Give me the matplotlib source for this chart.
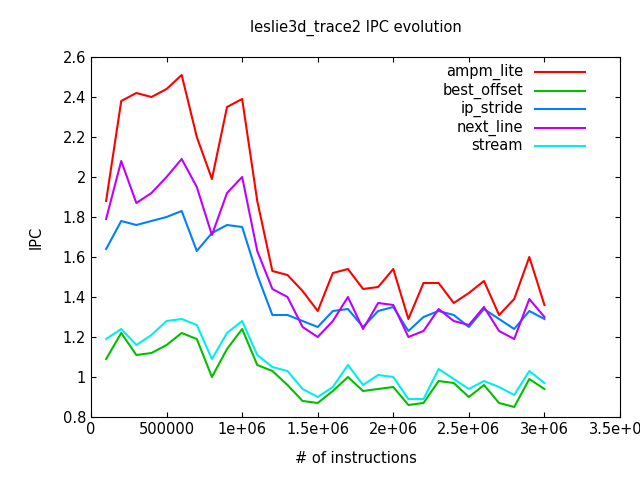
import matplotlib
matplotlib.use("Agg")
import matplotlib.pyplot as plt

# ---------------------------
# data
# ---------------------------
instructions = [i * 100000 for i in range(1, 31)]

ampm_lite = [1.88, 2.38, 2.42, 2.40, 2.44, 2.51, 2.20, 1.99, 2.35, 2.39,
             1.88, 1.53, 1.51, 1.43, 1.33, 1.52, 1.54, 1.44, 1.45, 1.54,
             1.29, 1.47, 1.47, 1.37, 1.42, 1.48, 1.31, 1.39, 1.60, 1.36]
best_offset = [1.09, 1.22, 1.11, 1.12, 1.16, 1.22, 1.19, 1.00, 1.14, 1.24,
               1.06, 1.03, 0.96, 0.88, 0.87, 0.93, 1.00, 0.93, 0.94, 0.95,
               0.86, 0.87, 0.98, 0.97, 0.90, 0.96, 0.87, 0.85, 0.99, 0.94]
ip_stride = [1.64, 1.78, 1.76, 1.78, 1.80, 1.83, 1.63, 1.72, 1.76, 1.75,
             1.51, 1.31, 1.31, 1.28, 1.25, 1.33, 1.34, 1.25, 1.33, 1.35,
             1.23, 1.30, 1.33, 1.31, 1.25, 1.34, 1.29, 1.24, 1.33, 1.29]
next_line = [1.79, 2.08, 1.87, 1.92, 2.00, 2.09, 1.95, 1.71, 1.92, 2.00,
             1.63, 1.44, 1.40, 1.25, 1.20, 1.28, 1.40, 1.24, 1.37, 1.36,
             1.20, 1.23, 1.34, 1.28, 1.26, 1.35, 1.23, 1.19, 1.39, 1.30]
stream = [1.19, 1.24, 1.16, 1.21, 1.28, 1.29, 1.26, 1.09, 1.22, 1.28,
          1.11, 1.05, 1.03, 0.94, 0.90, 0.95, 1.06, 0.96, 1.01, 1.00,
          0.89, 0.89, 1.04, 0.99, 0.94, 0.98, 0.95, 0.91, 1.03, 0.97]

series = [("ampm_lite", ampm_lite, "#ff0000"),
          ("best_offset", best_offset, "#00c000"),
          ("ip_stride", ip_stride, "#0080ff"),
          ("next_line", next_line, "#c000ff"),
          ("stream", stream, "#00eeee")]

xticks = [0, 500000, 1000000, 1500000, 2000000, 2500000, 3000000, 3500000]
xtick_labels = ["0", "500000", "1e+06", "1.5e+06", "2e+06", "2.5e+06", "3e+06", "3.5e+06"]
yticks = [0.8, 1, 1.2, 1.4, 1.6, 1.8, 2, 2.2, 2.4, 2.6]
ytick_labels = ["0.8", "1", "1.2", "1.4", "1.6", "1.8", "2", "2.2", "2.4", "2.6"]

# ---------------------------
# plot
# ---------------------------
fig = plt.figure(figsize=(6.4, 4.8), dpi=100)
ax = fig.add_axes([91 / 640, 1 - 417 / 480, 529 / 640, 360 / 480])

for name, vals, color in series:
    ax.plot(instructions, vals, color=color, linewidth=1.5)

ax.set_xlim(0, 3500000)
ax.set_ylim(0.8, 2.6)
ax.set_xticks(xticks)
ax.set_xticklabels(xtick_labels)
ax.set_yticks(yticks)
ax.set_yticklabels(ytick_labels)
ax.tick_params(direction="in", top=True, right=True, labelsize=10.5)
ax.set_xlabel("# of instructions", fontsize=10.5, labelpad=10)
ax.set_ylabel("IPC", fontsize=10.5, labelpad=14)
ax.set_title("leslie3d_trace2 IPC evolution", fontsize=10.5, pad=18)

# gnuplot-style key: right-aligned text, sample line to its right
for i, (name, vals, color) in enumerate(series):
    y = 1 - (15 + i * 18.5) / 360
    ax.text((523 - 91) / 529, y, name, transform=ax.transAxes,
            ha="right", va="center", fontsize=10.5)
    ax.plot([(535 - 91) / 529, (585 - 91) / 529], [y, y],
            transform=ax.transAxes, color=color, linewidth=1.5)

fig.savefig("out.png")
